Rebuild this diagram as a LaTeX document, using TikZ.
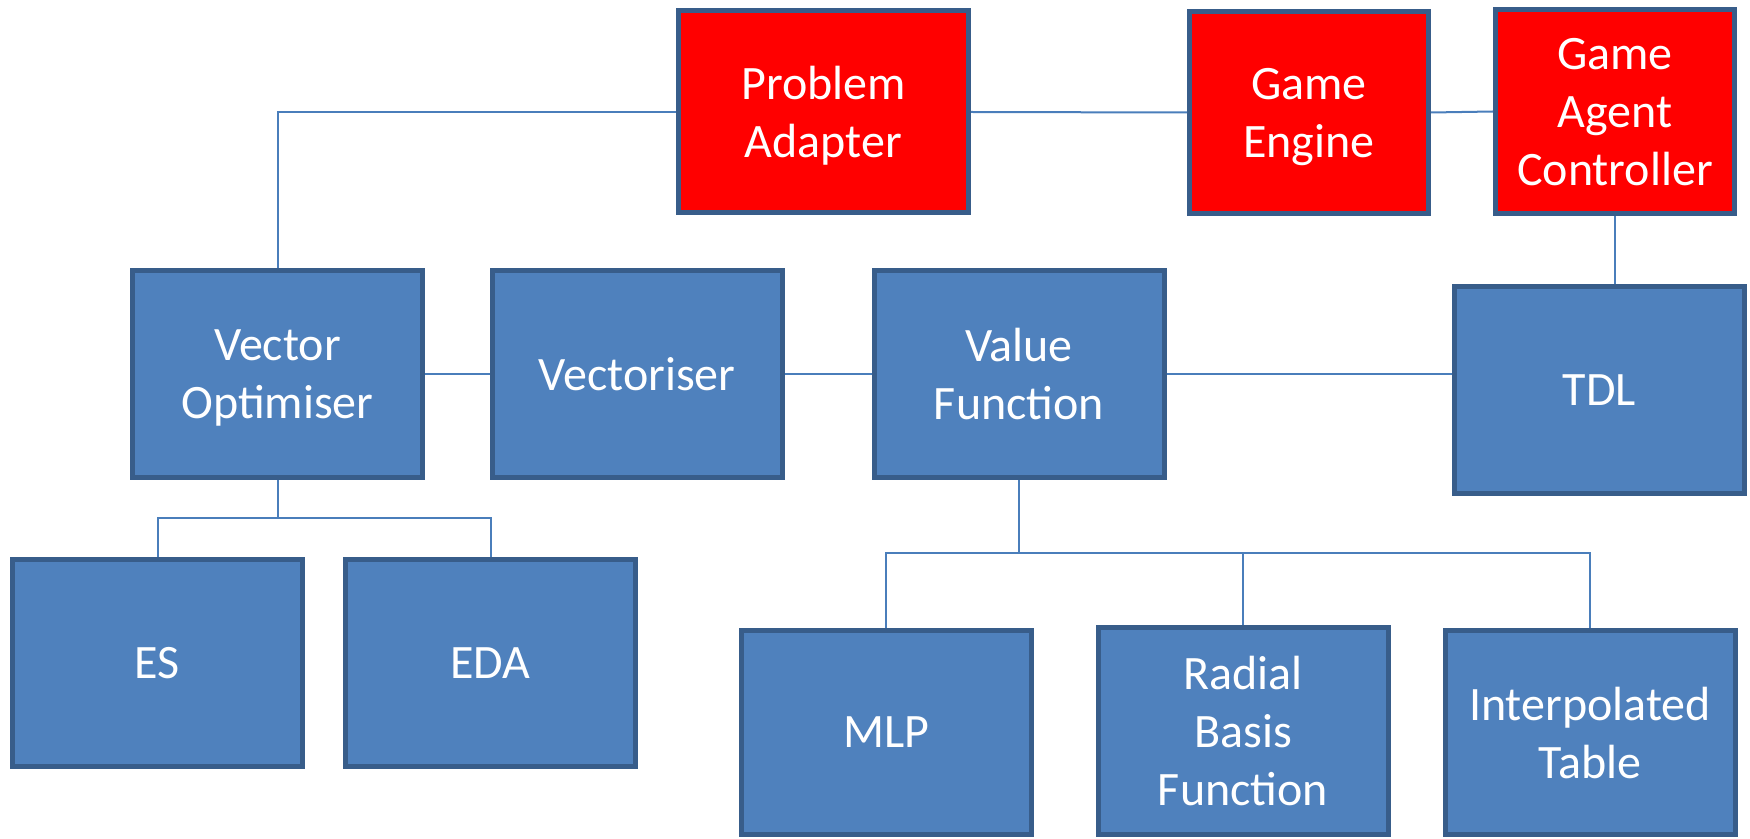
\documentclass[tikz,border=0pt]{standalone}
\usepackage{fontspec}
\setmainfont{Carlito}
\definecolor{boxblue}{HTML}{4F81BD}
\definecolor{boxedge}{HTML}{385D8A}
\definecolor{linkblue}{HTML}{4A7EBB}
\definecolor{boxred}{HTML}{FF0000}
\begin{document}
\begin{tikzpicture}[x=0.5pt,y=-0.5pt,
  blk/.style={draw=boxedge, line width=2.5pt, fill=boxblue, text=white,
    align=center, inner sep=0pt, text depth=0pt, minimum width=145pt, minimum height=103.5pt,
    font=\fontsize{24}{29}\selectfont},
  redblk/.style={blk, fill=boxred},
  link/.style={draw=linkblue, line width=1pt}]
\useasboundingbox (0,0) rectangle (1750,839);
\node[redblk, minimum height=101pt] (PA) at (823.5,112) {Problem\\Adapter};
\node[redblk, minimum width=119.5pt, minimum height=101pt] (GE) at (1309,112.5) {Game\\Engine};
\node[redblk, minimum width=119.5pt, minimum height=102pt] (GAC) at (1615,111.5) {Game\\Agent\\Controller};
\node[blk] (VO) at (277.5,374) {Vector\\Optimiser};
\node[blk] (VEC) at (637,374) {Vectoriser};
\node[blk] (VF) at (1019,374) {Value\\Function};
\node[blk] (TDL) at (1599.5,390) {TDL};
\node[blk] (ES) at (157.5,663) {ES};
\node[blk] (EDA) at (490.5,663) {EDA};
\node[blk, minimum height=102pt] (MLP) at (886,732.5) {MLP};
\node[blk] (RBF) at (1243,731) {Radial\\Basis\\Function};
\node[blk, minimum height=102pt] (IT) at (1590,732.5) {Interpolated\\Table};
\coordinate (j1) at (277.5,518);
\coordinate (j2) at (1019,553);
\draw[link] (PA.west) -| (VO.north);
\draw[link] (PA.east) -- (GE.west);
\draw[link] (GE.east) -- (GAC.west);
\draw[link] (GAC.south) -- (GAC.south |- TDL.north);
\draw[link] (VO.east) -- (VEC.west);
\draw[link] (VEC.east) -- (VF.west);
\draw[link] (VF.east) -- (VF.east -| TDL.west);
\draw[link] (VO.south) -- (j1);
\draw[link] (ES.north) |- (j1) -| (EDA.north);
\draw[link] (VF.south) -- (j2);
\draw[link] (MLP.north) |- (j2) -| (IT.north);
\draw[link] (RBF.north) -- (RBF.north |- j2);
\end{tikzpicture}
\end{document}
